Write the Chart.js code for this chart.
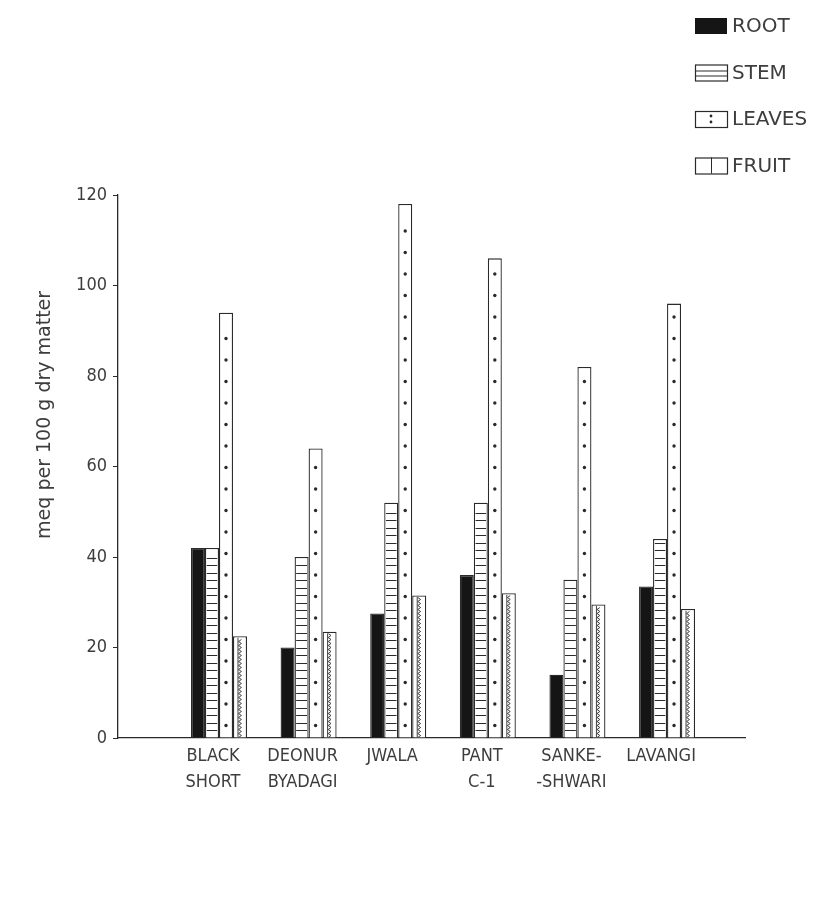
<!DOCTYPE html>
<html>
<head>
<meta charset="utf-8">
<script src="https://cdn.jsdelivr.net/npm/chart.js@4/dist/chart.umd.min.js"></script>
<style>
    html, body { margin: 0; padding: 0; background: #fff; }
    #wrap { width: 832px; height: 903px; position: relative; }
</style>
</head>
<body>
<div id="wrap"><canvas id="mineralChart"></canvas></div>
<script>
// varieties, one group of bars each
const categories = [['BLACK', 'SHORT'], ['DEONUR', 'BYADAGI'], ['JWALA'], ['PANT', 'C-1'], ['SANKE-', '-SHWARI'], ['LAVANGI']];
const positions = [1, 2, 3, 4, 5, 6];

// meq per 100 g dry matter
const root = [42, 20, 27.5, 36, 14, 33.5];
const stem = [42, 40, 52, 52, 35, 44];
const leaves = [94, 64, 118, 106, 82, 96];
const fruit = [22.5, 23.5, 31.5, 32, 29.5, 28.5];

const yTitle = 'meq per 100 g dry matter';

const ink = '#2a2a2a';
const textColor = '#3d3d3d';
const narrowFont = "'DejaVu Sans Condensed', 'Liberation Sans Narrow', 'DejaVu Sans', sans-serif";
const plainFont = "'DejaVu Sans', 'Liberation Sans', sans-serif";

// fills drawn inside each bar
function drawFill(ctx, kind, left, top, right, bottom) {
    ctx.save();
    ctx.beginPath();
    ctx.rect(left, top, right - left, bottom - top);
    ctx.clip();
    ctx.strokeStyle = ink;
    ctx.fillStyle = ink;
    ctx.lineWidth = 1;
    var cx = (left + right) / 2;
    if (kind === 'stem') {
        for (var y = bottom - 7.5; y > top + 2; y -= 7.5) {
            ctx.beginPath();
            ctx.moveTo(left, Math.round(y) + 0.5);
            ctx.lineTo(right, Math.round(y) + 0.5);
            ctx.stroke();
        }
    } else if (kind === 'leaves') {
        for (var y = bottom - 12; y > top + 6; y -= 21.5) {
            ctx.beginPath();
            ctx.arc(cx, y, 1.7, 0, Math.PI * 2);
            ctx.fill();
        }
    } else if (kind === 'fruit') {
        ctx.lineWidth = 0.9;
        ctx.beginPath();
        var step = 0;
        for (var y = bottom; y > top; y -= 2) {
            var x = cx + (step % 2 === 0 ? -1.4 : 1.4);
            if (step === 0) ctx.moveTo(x, y); else ctx.lineTo(x, y);
            step++;
        }
        ctx.stroke();
        ctx.beginPath();
        ctx.moveTo(left + 3.5, bottom);
        ctx.lineTo(left + 3.5, top);
        ctx.stroke();
    }
    ctx.restore();
}

const barFills = {
    id: 'barFills',
    afterDatasetsDraw(chart) {
        const ctx = chart.ctx;
        chart.data.datasets.forEach(function(ds, i) {
            if (ds.fillKind === 'root') return;
            chart.getDatasetMeta(i).data.forEach(function(bar) {
                const half = bar.width / 2;
                drawFill(ctx, ds.fillKind, bar.x - half + 1.5, bar.y + 1.5, bar.x + half - 1.5, bar.base);
            });
        });
    }
};

// y title sits above the middle of the axis in the original
const axisTitle = {
    id: 'axisTitle',
    afterDraw(chart) {
        const ctx = chart.ctx;
        const area = chart.chartArea;
        ctx.save();
        ctx.translate(45, area.top + (area.bottom - area.top) * 0.405);
        ctx.rotate(-Math.PI / 2);
        ctx.font = '19px ' + plainFont;
        ctx.fillStyle = textColor;
        ctx.textAlign = 'center';
        ctx.textBaseline = 'middle';
        ctx.fillText(yTitle, 0, 0);
        ctx.restore();
    }
};

const swatchLegend = {
    id: 'swatchLegend',
    afterDraw(chart) {
        const ctx = chart.ctx;
        const boxLeft = 695, boxW = 32, boxH = 16;
        ctx.save();
        ctx.font = '20px ' + plainFont;
        ctx.textBaseline = 'middle';
        chart.data.datasets.forEach(function(ds, i) {
            const cy = 26 + i * 46.5;
            const top = cy - boxH / 2;
            if (ds.fillKind === 'root') {
                ctx.fillStyle = '#151515';
                ctx.fillRect(boxLeft, top, boxW, boxH);
            } else {
                ctx.strokeStyle = ink;
                ctx.lineWidth = 1.2;
                ctx.strokeRect(boxLeft + 0.5, top + 0.5, boxW, boxH);
                ctx.fillStyle = ink;
                if (ds.fillKind === 'stem') {
                    ctx.lineWidth = 1;
                    [top + 6, top + 11].forEach(function(y) {
                        ctx.beginPath();
                        ctx.moveTo(boxLeft, y + 0.5);
                        ctx.lineTo(boxLeft + boxW, y + 0.5);
                        ctx.stroke();
                    });
                } else if (ds.fillKind === 'leaves') {
                    ctx.beginPath();
                    ctx.arc(boxLeft + boxW / 2, cy - 3, 1.4, 0, Math.PI * 2);
                    ctx.arc(boxLeft + boxW / 2, cy + 3, 1.4, 0, Math.PI * 2);
                    ctx.fill();
                } else {
                    ctx.lineWidth = 1;
                    ctx.beginPath();
                    ctx.moveTo(boxLeft + boxW / 2 + 0.5, top);
                    ctx.lineTo(boxLeft + boxW / 2 + 0.5, top + boxH);
                    ctx.stroke();
                }
            }
            ctx.fillStyle = textColor;
            ctx.fillText(ds.label, boxLeft + boxW + 5, cy + 1);
        });
        ctx.restore();
    }
};

function barSet(label, values, kind) {
    return {
        label: label,
        data: values,
        fillKind: kind,
        backgroundColor: kind === 'root' ? '#151515' : '#fff',
        borderColor: ink,
        borderWidth: 1.3,
        categoryPercentage: 0.625,
        barPercentage: 1.0
    };
}

const ctx = document.getElementById('mineralChart').getContext('2d');
const chart = new Chart(ctx, {
    type: 'bar',
    data: {
        labels: positions,
        datasets: [
            barSet('ROOT', root, 'root'),
            barSet('STEM', stem, 'stem'),
            barSet('LEAVES', leaves, 'leaves'),
            barSet('FRUIT', fruit, 'fruit')
        ]
    },
    plugins: [barFills, axisTitle, swatchLegend],
    options: {
        responsive: true,
        maintainAspectRatio: false,
        animation: false,
        layout: {
            padding: { left: 30, top: 195, right: 87, bottom: 0 }
        },
        plugins: {
            legend: { display: false },
            tooltip: { enabled: false }
        },
        scales: {
            x: {
                type: 'linear',
                offset: false,
                min: -0.127,
                max: 6.87,
                afterBuildTicks: function(scale) {
                    scale.ticks = positions.map(function(p) { return { value: p }; });
                },
                afterFit: function(scale) {
                    scale.height = 165;
                },
                grid: { display: true, offset: false, drawOnChartArea: false, drawTicks: false },
                border: { display: true, color: ink, width: 1.3 },
                ticks: {
                    autoSkip: false,
                    maxRotation: 0,
                    padding: 5,
                    labelOffset: -6,
                    color: textColor,
                    font: { family: narrowFont, size: 18, lineHeight: 1.45 },
                    callback: function(value) {
                        return categories[value - 1];
                    }
                }
            },
            y: {
                min: 0,
                max: 120,
                afterFit: function(scale) {
                    scale.width = 88;
                },
                grid: { display: true, drawOnChartArea: false, drawTicks: true, tickLength: 5, color: ink },
                border: { display: true, color: ink, width: 1.3 },
                ticks: {
                    stepSize: 20,
                    padding: 6,
                    color: textColor,
                    font: { family: narrowFont, size: 18 }
                },
                title: { display: false }
            }
        }
    }
});
</script>
</body>
</html>
